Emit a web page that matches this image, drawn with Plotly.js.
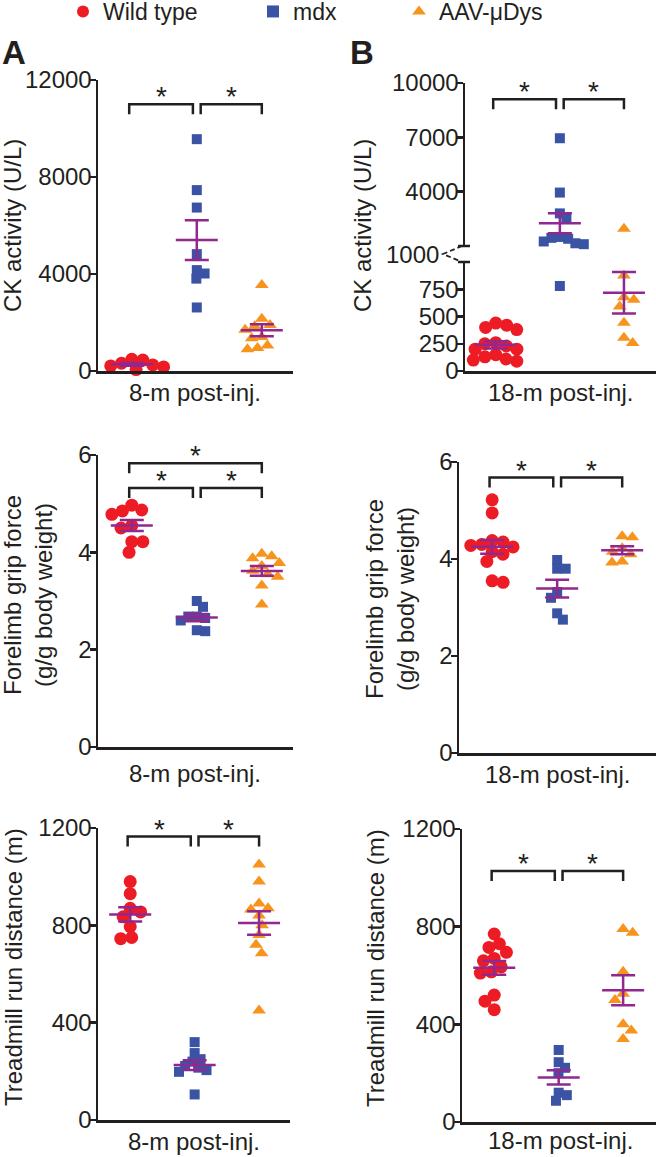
<!DOCTYPE html>
<html><head><meta charset="utf-8">
<script src="https://cdn.plot.ly/plotly-3.0.1.min.js"></script>
<style>html,body{margin:0;padding:0;background:#fff}#chart{width:656px;height:1157px}</style>
</head><body><div id="chart"></div>
<script>
// ---------------- data ----------------
const groupNames = ['Wild type', 'mdx', 'AAV-μDys'];
const xTitle8 = '8-m post-inj.';
const xTitle18 = '18-m post-inj.';
const yTitleCK = 'CK activity (U/L)';
const yTitleGrip = 'Forelimb grip force<br>(g/g body weight)';
const yTitleRun = 'Treadmill run distance (m)';

// CK activity (U/L)
const ck8_wt  = [170, 450, 480, 210, 60, 320, 250];
const ck8_mdx = [9560, 7460, 6740, 4820, 4160, 4020, 3810, 2620];
const ck8_aav = [3550, 2150, 1900, 1850, 1700, 1400, 1350, 1050, 950, 900];
const ck18_wt  = [420, 440, 380, 400, 260, 250, 230, 200, 150, 130, 100, 90, 110, 200];
const ck18_mdx = [6950, 3950, 2800, 2500, 1500, 1450, 1400, 1250, 1150, 1100, 780];
const ck18_aav = [1950, 875, 677, 653, 592, 442, 305, 256];
// Forelimb grip force (g/g body weight)
const grip8_wt  = [4.97, 4.87, 4.85, 4.78, 4.55, 4.5, 4.22, 4.22, 4.0];
const grip8_mdx = [3.0, 2.88, 2.68, 2.68, 2.65, 2.6, 2.4, 2.38];
const grip8_aav = [3.97, 3.92, 3.88, 3.78, 3.72, 3.62, 3.55, 3.5, 3.32, 2.93];
const grip18_wt  = [5.22, 4.95, 4.38, 4.35, 4.3, 4.28, 4.25, 4.15, 4.1, 3.95, 3.55, 3.52];
const grip18_mdx = [3.98, 3.8, 3.8, 3.32, 3.2, 2.88, 2.75];
const grip18_aav = [4.47, 4.45, 4.22, 4.15, 4.1, 3.95, 3.93];
// Treadmill run distance (m)
const run8_wt  = [980, 930, 870, 855, 835, 795, 750, 745];
const run8_mdx = [320, 275, 250, 240, 222, 215, 205, 198, 105];
const run8_aav = [1050, 980, 890, 870, 865, 840, 800, 760, 720, 685, 450];
const run18_wt  = [770, 730, 715, 695, 670, 660, 635, 615, 610, 520, 495, 460];
const run18_mdx = [295, 245, 222, 200, 120, 110, 87];
const run18_aav = [790, 775, 615, 525, 500, 400, 375, 340];

// tick values
const ticksCK8 = [0, 4000, 8000, 12000];
const ticksCK18low = [0, 250, 500, 750];
const ticksCK18high = [4000, 7000, 10000];
const ticksGrip = [0, 2, 4, 6];
const ticksRun = [0, 400, 800, 1200];

// ---------------- style / layout ----------------
const W = 656, H = 1157;
const AX = '#231f20';
const COLORS = ['#ed1c24', '#3a53a4', '#f7941d'];
const SYMBOLS = ['circle', 'square', 'triangle-up'];
const SIZES = [13, 10, 12];
const PURPLE = '#92278f';
const FONT = 'Liberation Sans, Arial, Helvetica, sans-serif';
const FS = 24;
const LEGENDS = ['legend', 'legend2', 'legend3'];

const panels = [
  {xa:'x', xPx:[98,293], xr:[-0.52,2.48],
   segs:[{ya:'y', yPx:[80,371], yr:[0,12000], ticks:ticksCK8}],
   data:[ck8_wt, ck8_mdx, ck8_aav], ytitle:yTitleCK, ytPos:[13,226], xtitle:xTitle8, xtPos:[195,393],
   brackets:[{a:0,b:1,seg:0,level:11000},{a:1,b:2,seg:0,level:11000}]},
  {xa:'x2', xPx:[465,656], xr:[-0.48,2.5],
   segs:[{ya:'y2', yPx:[262,371], yr:[0,1000], ticks:ticksCK18low},
         {ya:'y3', yPx:[83,246], yr:[1000,10000], ticks:ticksCK18high}],
   data:[ck18_wt, ck18_mdx, ck18_aav], ytitle:yTitleCK, ytPos:[363,226], xtitle:xTitle18, xtPos:[560,393],
   brackets:[{a:0,b:1,seg:1,level:9100},{a:1,b:2,seg:1,level:9100}]},
  {xa:'x3', xPx:[98,293], xr:[-0.52,2.48],
   segs:[{ya:'y4', yPx:[455,747], yr:[0,6], ticks:ticksGrip}],
   data:[grip8_wt, grip8_mdx, grip8_aav], ytitle:yTitleGrip, ytPos:[28,595], xtitle:xTitle8, xtPos:[195,773],
   brackets:[{a:0,b:1,seg:0,level:5.32},{a:1,b:2,seg:0,level:5.32},{a:0,b:2,seg:0,level:5.83}]},
  {xa:'x4', xPx:[459,656], xr:[-0.51,2.52],
   segs:[{ya:'y5', yPx:[462,753], yr:[0,6], ticks:ticksGrip}],
   data:[grip18_wt, grip18_mdx, grip18_aav], ytitle:yTitleGrip, ytPos:[390,599], xtitle:xTitle18, xtPos:[557,775],
   brackets:[{a:0,b:1,seg:0,level:5.68},{a:1,b:2,seg:0,level:5.68}]},
  {xa:'x5', xPx:[98,290], xr:[-0.5,2.48],
   segs:[{ya:'y6', yPx:[828,1120], yr:[0,1200], ticks:ticksRun}],
   data:[run8_wt, run8_mdx, run8_aav], ytitle:yTitleRun, ytPos:[13,967], xtitle:xTitle8, xtPos:[194,1141],
   brackets:[{a:0,b:1,seg:0,level:1165},{a:1,b:2,seg:0,level:1165}]},
  {xa:'x6', xPx:[462,656], xr:[-0.5,2.51],
   segs:[{ya:'y7', yPx:[829,1122], yr:[0,1200], ticks:ticksRun}],
   data:[run18_wt, run18_mdx, run18_aav], ytitle:yTitleRun, ytPos:[375,968], xtitle:xTitle18, xtPos:[560,1140],
   brackets:[{a:0,b:1,seg:0,level:1028},{a:1,b:2,seg:0,level:1028}]}
];

function axKey(id){ return id[0] === 'x' ? 'xaxis' + id.slice(1) : 'yaxis' + id.slice(1); }
const px2x = v => v / W;
const px2y = v => (H - v) / H;
const meanOf = a => a.reduce((s, v) => s + v, 0) / a.length;
const semOf = a => { const m = meanOf(a); return Math.sqrt(a.reduce((s, v) => s + (v - m) * (v - m), 0) / (a.length - 1)) / Math.sqrt(a.length); };

// simple beeswarm: place points as close to the group centre as possible without overlap
function swarm(pys, d) {
  const idx = pys.map((_, i) => i).sort((a, b) => pys[a] - pys[b]);
  const placed = [], out = new Array(pys.length).fill(0);
  let side = 1;
  for (const i of idx) {
    const y = pys[i];
    const cands = [0];
    for (const p of placed) {
      const dy = Math.abs(p.y - y);
      if (dy < d) { const dx = Math.sqrt(d * d - dy * dy); cands.push(p.x + dx, p.x - dx); }
    }
    cands.sort((a, b) => (Math.abs(a) - Math.abs(b)) || (side * (b - a)));
    let chosen = 0;
    for (const c of cands) {
      if (placed.every(p => (p.x - c) ** 2 + (p.y - y) ** 2 >= d * d - 0.01)) { chosen = c; break; }
    }
    if (chosen !== 0) side = -side;
    placed.push({x: chosen, y});
    out[i] = chosen;
  }
  return out;
}

const layout = {
  width: W, height: H, margin: {l:0, r:0, t:0, b:0, pad:0, autoexpand:false},
  paper_bgcolor: '#fff', plot_bgcolor: 'rgba(0,0,0,0)',
  font: {family: FONT, color: AX, size: FS},
  showlegend: true, shapes: [], annotations: []
};
const legendX = [63, 253, 399];
LEGENDS.forEach((k, i) => {
  layout[k] = {x: px2x(legendX[i]), y: 1 + 10 / H, xanchor: 'left', yanchor: 'top',
    orientation: 'h', font: {family: FONT, size: 23, color: AX}, itemsizing: 'constant',
    bgcolor: 'rgba(0,0,0,0)', borderwidth: 0};
});

const traces = [];
panels.forEach((p, pi) => {
  layout[axKey(p.xa)] = {domain: [px2x(p.xPx[0]), px2x(p.xPx[1])], range: p.xr, anchor: p.segs[0].ya,
    showline: true, linecolor: AX, linewidth: 2.5, ticks: '', showticklabels: false,
    showgrid: false, zeroline: false, fixedrange: true};
  p.segs.forEach(s => {
    layout[axKey(s.ya)] = {domain: [px2y(s.yPx[1]), px2y(s.yPx[0])], range: s.yr, anchor: p.xa,
      showline: true, linecolor: AX, linewidth: 2.5, ticks: 'outside', ticklen: 6, tickwidth: 2.5,
      tickcolor: AX, tickvals: s.ticks, ticktext: s.ticks.map(String), ticklabelstandoff: -7,
      tickfont: {family: FONT, size: FS, color: AX},
      showgrid: false, zeroline: false, fixedrange: true};
  });
  const pxPerX = (p.xPx[1] - p.xPx[0]) / (p.xr[1] - p.xr[0]);
  const segOf = v => (p.segs.length > 1 && v > p.segs[0].yr[1]) ? 1 : 0;
  const pixY = v => { const s = p.segs[segOf(v)]; return s.yPx[1] - (v - s.yr[0]) / (s.yr[1] - s.yr[0]) * (s.yPx[1] - s.yPx[0]); };

  p.data.forEach((vals, g) => {
    const offs = swarm(vals.map(pixY), SIZES[g] * 0.85);
    p.segs.forEach((s, si) => {
      const idx = vals.map((v, i) => i).filter(i => segOf(vals[i]) === si);
      if (!idx.length) return;
      traces.push({type: 'scatter', mode: 'markers', xaxis: p.xa, yaxis: s.ya,
        x: idx.map(i => g + offs[i] / pxPerX), y: idx.map(i => vals[i]),
        marker: {color: COLORS[g], symbol: SYMBOLS[g], size: SIZES[g], line: {width: 0}},
        cliponaxis: false, hoverinfo: 'skip', name: groupNames[g],
        showlegend: pi === 0 && si === 0, legend: LEGENDS[g]});
    });
  });
  p.data.forEach((vals, g) => {
    const m = meanOf(vals), se = semOf(vals);
    const s = p.segs[segOf(m)];
    traces.push({type: 'scatter', mode: 'markers', xaxis: p.xa, yaxis: s.ya, x: [g], y: [m],
      marker: {symbol: 'line-ew', size: 30, color: PURPLE, line: {color: PURPLE, width: 2.5}},
      error_y: {type: 'data', array: [se], visible: true, color: PURPLE, thickness: 2.5, width: 12},
      cliponaxis: false, showlegend: false, hoverinfo: 'skip'});
  });

  // significance brackets
  p.brackets.forEach(b => {
    const s = p.segs[b.seg];
    const pxPerY = (s.yPx[1] - s.yPx[0]) / (s.yr[1] - s.yr[0]);
    const drop = 10 / pxPerY;
    const x0 = b.a + (b.a === 1 ? 0.06 : -0.04);
    const x1 = b.b + (b.b === 1 ? -0.06 : 0);
    const L = b.level;
    layout.shapes.push({type: 'path', xref: p.xa, yref: s.ya,
      path: `M ${x0},${L - drop} L ${x0},${L} L ${x1},${L} L ${x1},${L - drop}`,
      line: {color: AX, width: 2.5}});
    layout.annotations.push({xref: p.xa, yref: s.ya, x: (x0 + x1) / 2, y: L, text: '*',
      showarrow: false, yanchor: 'bottom', yshift: -10, font: {family: FONT, size: 28, color: AX}});
  });

  // axis titles
  layout.annotations.push({xref: 'paper', yref: 'paper', x: px2x(p.ytPos[0]), y: px2y(p.ytPos[1]),
    text: p.ytitle, textangle: -90, showarrow: false, xanchor: 'center', yanchor: 'middle',
    font: {family: FONT, size: FS, color: AX}});
  layout.annotations.push({xref: 'paper', yref: 'paper', x: px2x(p.xtPos[0]), y: px2y(p.xtPos[1]),
    text: p.xtitle, showarrow: false, xanchor: 'center', yanchor: 'middle',
    font: {family: FONT, size: FS, color: AX}});
});

// axis break on panel B (CK, 18-m)
layout.shapes.push({type: 'line', xref: 'paper', yref: 'paper', x0: px2x(458), x1: px2x(470), y0: px2y(246), y1: px2y(246), line: {color: AX, width: 2.5}});
layout.shapes.push({type: 'line', xref: 'paper', yref: 'paper', x0: px2x(458), x1: px2x(470), y0: px2y(262), y1: px2y(262), line: {color: AX, width: 2.5}});
layout.shapes.push({type: 'path', xref: 'paper', yref: 'paper',
  path: `M ${px2x(462)},${px2y(246)} L ${px2x(443)},${px2y(254)} L ${px2x(462)},${px2y(262)}`,
  line: {color: AX, width: 1.8, dash: '5px,3px'}});
layout.annotations.push({xref: 'paper', yref: 'paper', x: px2x(441), y: px2y(254), text: '1000',
  showarrow: false, xanchor: 'right', yanchor: 'middle', font: {family: FONT, size: FS, color: AX}});

// panel letters
layout.annotations.push({xref: 'paper', yref: 'paper', x: px2x(14), y: px2y(52), text: '<b>A</b>',
  showarrow: false, xanchor: 'center', yanchor: 'middle', font: {family: FONT, size: 33, color: AX}});
layout.annotations.push({xref: 'paper', yref: 'paper', x: px2x(362), y: px2y(52), text: '<b>B</b>',
  showarrow: false, xanchor: 'center', yanchor: 'middle', font: {family: FONT, size: 33, color: AX}});

Plotly.newPlot('chart', traces, layout, {displayModeBar: false, staticPlot: true});
</script>
</body></html>
